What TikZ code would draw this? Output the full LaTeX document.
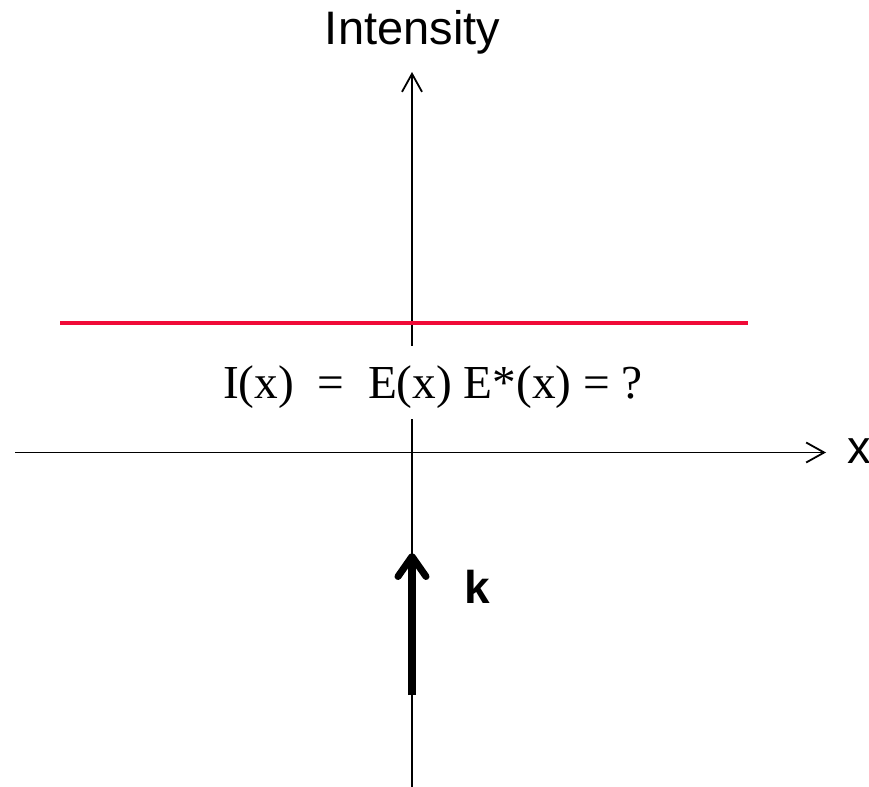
\documentclass[tikz,border=0pt]{standalone}
\usepackage{fontspec}
\setmainfont{Liberation Serif}
\newfontfamily\arialf{Liberation Sans}
\usetikzlibrary{arrows.meta}
\definecolor{redline}{RGB}{240,10,55}
\tikzset{
  axisline/.style={line width=1.8bp, -{Straight Barb[length=18bp,width=20bp,line width=1.8bp]}},
  sanslabel/.style={inner sep=0pt, font=\arialf\fontsize{47bp}{56bp}\selectfont},
  wavearrow/.style={line width=8bp, -{Straight Barb[length=20bp,width=28bp,line width=7bp,round]}}
}
\begin{document}
\begin{tikzpicture}[x=1bp,y=-1bp]
\useasboundingbox (0,0) rectangle (869,787);
% axes
\coordinate (vbot) at (412,787);
\coordinate (vtop) at (412,72);
\coordinate (hleft) at (15,452.5);
\coordinate (hright) at (826,452.5);
\draw[axisline] (vbot) -- (vtop);
\draw[axisline] (hleft) -- (hright);
% red line
\coordinate (rl) at (60,322.5);
\coordinate (rr) at (748,322.5);
\draw[redline, line width=4bp] (rl) -- (rr);
% formula
\node[fill=white, inner xsep=4bp, inner ysep=0pt, text height=52bp, text depth=21bp, anchor=base,
      font=\fontsize{47.3bp}{56bp}\selectfont] (formula) at (433,398) {I(x)\ \ =\ \ E(x) E*(x) = ?};
% labels
\node[sanslabel, anchor=base] (intensity) at (412.5,45) {Intensity};
\node[sanslabel, anchor=base west] (xlab) at (847,463) {x};
% wave vector
\coordinate (kbot) at (412,695);
\coordinate (ktop) at (412,553);
\draw[wavearrow] (kbot) -- (ktop);
\node[sanslabel, anchor=base, font=\arialf\bfseries\fontsize{46bp}{56bp}\selectfont] (klab) at (477,603) {k};
\end{tikzpicture}
\end{document}
